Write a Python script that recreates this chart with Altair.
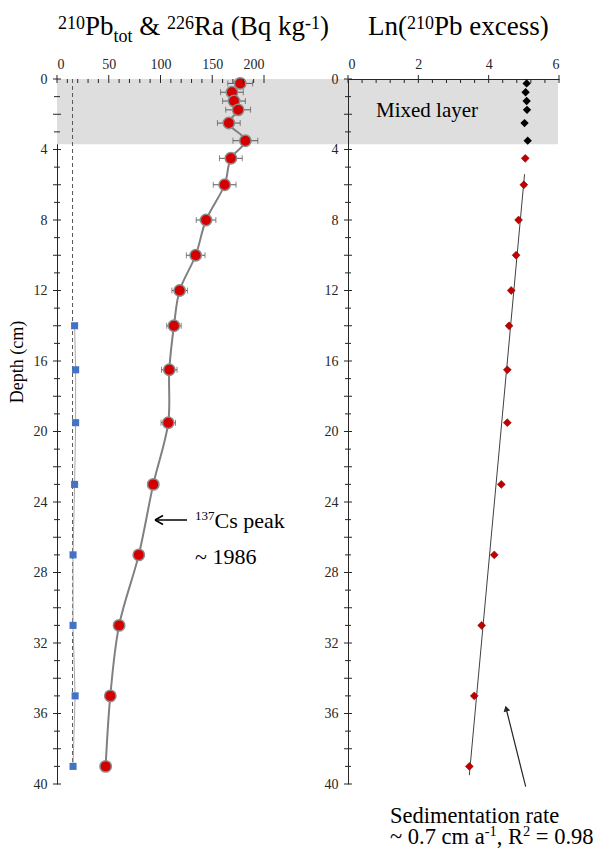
import altair as alt
import pandas as pd

# ---------------- data ----------------
pb_depth = [0.25, 0.75, 1.25, 1.75, 2.5, 3.5, 4.5, 6, 8, 10, 12, 14, 16.5, 19.5, 23, 27, 31, 35, 39]
pb_tot = [177, 169, 171, 175, 166, 182, 168, 162, 144, 134, 118.5, 113, 108.5, 107.5, 93, 79, 60, 51.5, 47]
pb_err = [12, 11, 11, 12, 11, 12, 11, 11, 9.5, 9, 7.5, 7, 7.5, 7, 5, 4, 3.5, 3, 3]

ra_depth = [14, 16.5, 19.5, 23, 27, 31, 35, 39]
ra_226 = [17, 18, 18, 17, 15.5, 15.5, 17.5, 15.5]
ra_supported = [15]
ra_sup_depth = [0, 39]

mixed_depth = [0.25, 0.75, 1.25, 1.75, 2.5, 3.5]
mixed_ln = [5.08, 5.05, 5.08, 5.09, 5.02, 5.11]
ex_depth = [4.5, 6, 8, 10, 12, 14, 16.5, 19.5, 23, 27, 31, 35, 39]
ex_ln = [5.04, 5.00, 4.85, 4.78, 4.64, 4.58, 4.53, 4.53, 4.36, 4.16, 3.80, 3.59, 3.45]
fit_depth = [5.4, 39.5]
fit_ln = [5.02, 3.45]

mixed_layer = [0, 3.7]

depth_major = list(range(0, 41, 2))
depth_minor = list(range(1, 40, 2))
pb_major = [0, 50, 100, 150, 200]
pb_minor = [v for v in range(10, 200, 10) if v % 50]
ln_major = [0, 2, 4, 6]
ln_minor = [0.4, 0.8, 1.2, 1.6, 2.4, 2.8, 3.2, 3.6, 4.4, 4.8, 5.2, 5.6]

# ---------------- layout constants ----------------
SERIF = "Liberation Serif"
AX = "#262626"
W1, W2, H, GAP = 207, 211, 705, 84

pb_df = pd.DataFrame({"depth": pb_depth, "pb": pb_tot, "err": pb_err})
pb_df["lo"] = pb_df["pb"] - pb_df["err"]
pb_df["hi"] = pb_df["pb"] + pb_df["err"]
ra_df = pd.DataFrame({"depth": ra_depth, "ra": ra_226})
sup_df = pd.DataFrame({"x": ra_supported, "d0": [ra_sup_depth[0]], "d1": [ra_sup_depth[1]]})
mix_df = pd.DataFrame({"depth": mixed_depth, "ln": mixed_ln})
ex_df = pd.DataFrame({"depth": ex_depth, "ln": ex_ln})
fit_df = pd.DataFrame({"depth": fit_depth, "ln": fit_ln})
band_df = pd.DataFrame({"top": [mixed_layer[0]], "bottom": [mixed_layer[1]]})
one = pd.DataFrame({"k": [0]})

yscale = alt.Scale(domain=[0, 40], reverse=True, nice=False, zero=False)


def yaxis():
    return alt.Axis(values=depth_major, ticks=False, labelFont=SERIF, labelFontSize=14,
                    labelColor=AX, domainColor=AX, labelPadding=10, grid=False, title=None)


def xaxis(vals):
    return alt.Axis(values=vals, orient="top", ticks=False, labelFont=SERIF, labelFontSize=14,
                    labelColor=AX, domainColor=AX, labelPadding=8, grid=False, title=None)


TW = {" ": 250, "(": 333, ")": 333, ",": 250, "-": 333, ".": 250, "=": 564, "&": 778, "~": 541,
      "B": 667, "C": 667, "L": 611, "P": 556, "R": 667, "S": 556, "a": 444, "b": 500, "c": 444,
      "d": 500, "e": 444, "g": 500, "i": 278, "k": 500, "l": 278, "m": 778, "n": 500, "o": 500,
      "p": 500, "q": 500, "r": 333, "s": 389, "t": 278, "x": 500, "y": 500}


def tw(s, size):
    return sum(TW.get(c, 500) for c in s) / 1000.0 * size


def rich(parts, x0, y0, color="#000000"):
    layers = []
    x = x0
    for s, size, dy in parts:
        lead = len(s) - len(s.lstrip(" "))
        layers.append(
            alt.Chart(one).mark_text(text=s.strip(), font=SERIF, fontSize=size, align="left",
                                     baseline="alphabetic", color=color)
            .encode(x=alt.value(x + tw(" " * lead, size)), y=alt.value(y0 + dy))
        )
        x += tw(s, size)
    return layers


def seg(x1, y1, x2, y2, color=AX, width=1.2):
    return alt.Chart(one).mark_rule(color=color, strokeWidth=width).encode(
        x=alt.value(x1), y=alt.value(y1), x2=alt.value(x2), y2=alt.value(y2))


def yticks():
    maj = alt.Chart(pd.DataFrame({"d": depth_major})).mark_rule(color=AX, strokeWidth=1).encode(
        y=alt.Y("d:Q", scale=yscale), x=alt.value(-4), x2=alt.value(4))
    mnr = alt.Chart(pd.DataFrame({"d": depth_minor})).mark_rule(color=AX, strokeWidth=1).encode(
        y=alt.Y("d:Q", scale=yscale), x=alt.value(-3), x2=alt.value(3))
    return [maj, mnr]


def xticks(major, minor, xs):
    maj = alt.Chart(pd.DataFrame({"v": major})).mark_rule(color=AX, strokeWidth=1).encode(
        x=alt.X("v:Q", scale=xs), y=alt.value(-4), y2=alt.value(4))
    mnr = alt.Chart(pd.DataFrame({"v": minor})).mark_rule(color=AX, strokeWidth=1).encode(
        x=alt.X("v:Q", scale=xs), y=alt.value(0), y2=alt.value(4))
    return [maj, mnr]


# ---------------- left panel ----------------
xs1 = alt.Scale(domain=[0, 200], nice=False, zero=False)

band = alt.Chart(band_df).mark_rect(color="#dedede").encode(
    y=alt.Y("top:Q", scale=yscale, axis=yaxis()), y2="bottom:Q",
    x=alt.value(0), x2=alt.value(W1 + GAP + W2 - 1))

base1 = alt.Chart(pb_df).encode(y=alt.Y("depth:Q", scale=yscale, axis=yaxis()))

sup_line = alt.Chart(sup_df).mark_rule(color="#595959", strokeDash=[4, 3], strokeWidth=1).encode(
    x=alt.X("x:Q", scale=xs1, axis=xaxis(pb_major)),
    y=alt.Y("d0:Q", scale=yscale), y2="d1:Q")

ra_line = alt.Chart(ra_df).mark_line(color="#a6a6a6", strokeWidth=1).encode(
    x=alt.X("ra:Q", scale=xs1), y=alt.Y("depth:Q", scale=yscale), order="depth:Q")
ra_pts = alt.Chart(ra_df).mark_point(shape="square", filled=True, size=50, color="#4472c4", opacity=1).encode(
    x=alt.X("ra:Q", scale=xs1), y=alt.Y("depth:Q", scale=yscale))

err_rule = base1.mark_rule(color="#595959", strokeWidth=1).encode(
    x=alt.X("lo:Q", scale=xs1), x2="hi:Q")
err_lo = base1.mark_tick(orient="vertical", color="#595959", size=6, thickness=1).encode(
    x=alt.X("lo:Q", scale=xs1))
err_hi = base1.mark_tick(orient="vertical", color="#595959", size=6, thickness=1).encode(
    x=alt.X("hi:Q", scale=xs1))

pb_line = base1.mark_line(color="#808080", strokeWidth=2, interpolate="catmull-rom").encode(
    x=alt.X("pb:Q", scale=xs1), order="depth:Q")
pb_pts = base1.mark_point(shape="circle", filled=True, size=130, fill="#d40000", stroke="#8c8c8c",
                          strokeWidth=1.5, opacity=1).encode(x=alt.X("pb:Q", scale=xs1))

title1 = rich([("210", 18, -6.4), ("Pb", 27, 0), ("tot", 18, 6.7), (" & ", 27, 0), ("226", 18, -6.4),
               ("Ra (Bq kg", 27, 0), ("-1", 18, -6.4), (")", 27, 0)], 1, -44)
depth_title = alt.Chart(one).mark_text(text="Depth (cm)", font=SERIF, fontSize=18, angle=270,
                                       align="center", baseline="middle", color="#000000").encode(
    x=alt.value(-39), y=alt.value(283))
cs_text = rich([("137", 13, -8), ("Cs peak", 22, 0)], 138, 449) + rich([("~ 1986", 22, 0)], 138, 485)
cs_arrow = [seg(98, 441, 130, 441, "#000000", 1.5), seg(98, 441, 106, 436.5, "#000000", 1.5),
            seg(98, 441, 106, 445.5, "#000000", 1.5)]

left = alt.layer(
    band, sup_line, ra_line, ra_pts, err_rule, err_lo, err_hi, pb_line, pb_pts,
    *yticks(), *xticks(pb_major, pb_minor, xs1), *title1, depth_title, *cs_text, *cs_arrow
).properties(width=W1, height=H)

# ---------------- right panel ----------------
xs2 = alt.Scale(domain=[0, 6], nice=False, zero=False)

fit = alt.Chart(fit_df).mark_line(color="#404040", strokeWidth=1).encode(
    x=alt.X("ln:Q", scale=xs2, axis=xaxis(ln_major)),
    y=alt.Y("depth:Q", scale=yscale, axis=yaxis()), order="depth:Q")
mix_pts = alt.Chart(mix_df).mark_point(shape="diamond", filled=True, size=70, color="#000000", opacity=1).encode(
    x=alt.X("ln:Q", scale=xs2), y=alt.Y("depth:Q", scale=yscale))
ex_pts = alt.Chart(ex_df).mark_point(shape="diamond", filled=True, size=62, fill="#c00000", stroke="#8b0000",
                                     strokeWidth=0.6, opacity=1).encode(
    x=alt.X("ln:Q", scale=xs2), y=alt.Y("depth:Q", scale=yscale))

title2 = rich([("Ln(", 27, 0), ("210", 18, -6.4), ("Pb excess)", 27, 0)], 20, -44)
mixed_txt = rich([("Mixed layer", 21, 0)], 28, 38)
sed_txt = rich([("Sedimentation rate", 22.5, 0)], 42, 744) + rich(
    [("~ 0.7 cm a", 22.5, 0), ("-1", 14.5, -8), (", R", 22.5, 0), ("2", 14.5, -8), (" = 0.98", 22.5, 0)], 42, 765)
sed_arrow = [
    seg(177.7, 707.7, 158.6, 631.5, "#262626", 1.2),
    alt.Chart(one).mark_point(shape="triangle-up", filled=True, size=45, angle=346, color="#262626",
                              opacity=1).encode(x=alt.value(158.2), y=alt.value(629.5)),
]

right = alt.layer(
    fit, mix_pts, ex_pts, *yticks(), *xticks(ln_major, ln_minor, xs2),
    *title2, *mixed_txt, *sed_txt, *sed_arrow
).properties(width=W2, height=H)

chart = alt.hconcat(left, right, spacing=GAP, bounds="flush").properties(
    padding={"left": 1, "top": 5, "right": 0, "bottom": 0},
    background="white",
).configure_view(stroke=None)

chart.save("out.html", embed_options={"renderer": "svg", "actions": False})
